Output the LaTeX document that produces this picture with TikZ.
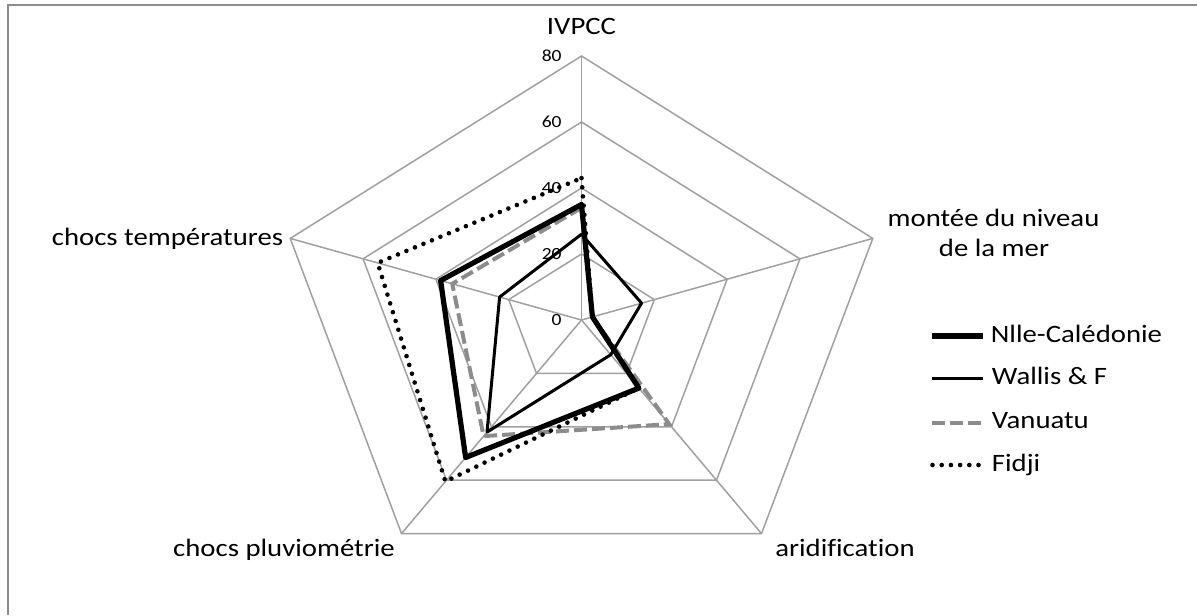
\documentclass[tikz,border=0pt]{standalone}
\usepackage{fontspec}
\setmainfont{Carlito}[FakeStretch=1.15, Ligatures=CommonOff]
\definecolor{gridgray}{RGB}{160,160,160}
\definecolor{framegray}{RGB}{140,140,140}
\definecolor{vangray}{RGB}{140,140,140}
\tikzset{
  gridline/.style={gridgray, line width=0.75pt},
  ncline/.style={black, line width=2.6pt, line join=round},
  wfline/.style={black, line width=1.5pt, line join=round},
  vuline/.style={vangray, line width=2pt, dash pattern=on 6.5pt off 2.5pt},
  fjline/.style={black, line width=2.3pt, line cap=round, dash pattern=on 0pt off 4.6pt},
  axlabel/.style={font=\fontsize{12.5}{15}\selectfont, inner sep=0pt, text=black},
  ticklabel/.style={font=\fontsize{8.5}{10}\selectfont, inner sep=0pt, anchor=base east, text=black},
}
\begin{document}
\begin{tikzpicture}[x=0.5pt,y=-0.5pt]
\useasboundingbox (0,0) rectangle (1197,615);
\coordinate (fa) at (7.5,615);
\coordinate (fb) at (7.5,5.5);
\coordinate (fc) at (1197,5.5);
\draw[framegray, line width=1pt] (fa) -- (fb) -- (fc);
\begin{scope}[shift={(581.5,320)}, x=1.914pt, y=1.65pt]
  \coordinate (O) at (0,0);
  \foreach \r in {20,40,60,80}
    \draw[gridline, line join=miter] (90:\r) -- (18:\r) -- (-54:\r) -- (-126:\r) -- (162:\r) -- cycle;
  \foreach \a in {90,18,-54,-126,162}
    \draw[gridline] (O) -- (\a:80);
  \node[ticklabel] (t0) at (-5.1,-1.67) {0};
  \node[ticklabel] (t20) at (-5.1,18.33) {20};
  \node[ticklabel] (t40) at (-5.1,38.33) {40};
  \node[ticklabel] (t60) at (-5.1,58.33) {60};
  \node[ticklabel] (t80) at (-5.1,78.33) {80};
  % Nlle-Caledonie
  \coordinate (n1) at (90:35);
  \coordinate (n2) at (18:3);
  \coordinate (n3) at (-54:25.5);
  \coordinate (n4) at (-126:51.5);
  \coordinate (n5) at (162:38.7);
  % Wallis & F
  \coordinate (w1) at (90:26);
  \coordinate (w2) at (18:16.5);
  \coordinate (w3) at (-54:13);
  \coordinate (w4) at (-126:42);
  \coordinate (w5) at (162:22.5);
  % Vanuatu
  \coordinate (v1) at (90:34);
  \coordinate (v2) at (18:3);
  \coordinate (v3) at (-54:39);
  \coordinate (v4) at (-126:43.5);
  \coordinate (v5) at (162:35.5);
  % Fidji
  \coordinate (f1) at (90:43);
  \coordinate (f2) at (18:3);
  \coordinate (f3) at (-54:25.5);
  \coordinate (f4) at (-126:60.5);
  \coordinate (f5) at (162:56);
  \draw[vuline] (v1) -- (v2) -- (v3) -- (v4) -- (v5) -- cycle;
  \draw[ncline] (n1) -- (n2) -- (n3) -- (n4) -- (n5) -- cycle;
  \draw[wfline] (w1) -- (w2) -- (w3) -- (w4) -- (w5) -- cycle;
  \draw[fjline] (f1) -- (f2) -- (f3) -- (f4) -- (f5) -- cycle;
\end{scope}
% axis labels
\node[axlabel, anchor=base] (ivpcc) at (581.5,35) {IVPCC};
\node[axlabel, anchor=base] (mont1) at (993.5,226.5) {montée du niveau};
\node[axlabel, anchor=base] (mont2) at (994,256) {de la mer};
\node[axlabel, anchor=base east] (temp) at (283.5,245) {chocs températures};
\node[axlabel, anchor=base] (pluv) at (284,556) {chocs pluviométrie};
\node[axlabel, anchor=base] (arid) at (845,556) {aridification};
% legend
\coordinate (l1a) at (931.7,336);   \coordinate (l1b) at (983.3,336);
\coordinate (l2a) at (931.7,378.3); \coordinate (l2b) at (983.3,378.3);
\coordinate (l3a) at (931.7,422.7); \coordinate (l3b) at (983.3,422.7);
\coordinate (l4a) at (932.5,465);   \coordinate (l4b) at (984,465);
\draw[ncline] (l1a) -- (l1b);
\draw[wfline] (l2a) -- (l2b);
\draw[vuline] (l3a) -- (l3b);
\draw[fjline] (l4a) -- (l4b);
\node[axlabel, anchor=base west] (leg1) at (990.5,342) {Nlle-Calédonie};
\node[axlabel, anchor=base west] (leg2) at (991.5,384.3) {Wallis \& F};
\node[axlabel, anchor=base west] (leg3) at (991.5,428.7) {Vanuatu};
\node[axlabel, anchor=base west] (leg4) at (991.5,471) {Fidji};
\end{tikzpicture}
\end{document}
